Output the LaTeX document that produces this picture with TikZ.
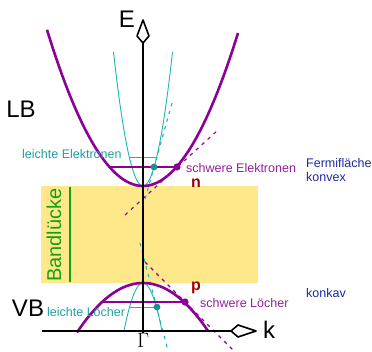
\documentclass[tikz,border=0pt]{standalone}
\usepackage{fontspec}
\setmainfont{Liberation Sans}
\definecolor{bandpurple}{RGB}{140,0,150}
\definecolor{txtpurple}{RGB}{150,30,160}
\definecolor{cyanline}{RGB}{32,180,180}
\definecolor{cyantxt}{RGB}{30,160,160}
\definecolor{gapyellow}{RGB}{254,232,138}
\definecolor{gapgreen}{RGB}{20,160,20}
\definecolor{nred}{RGB}{160,0,0}
\definecolor{navytxt}{RGB}{30,40,160}
\tikzset{
  lbl/.style={inner sep=0pt, font=\fontsize{12.5}{14}\selectfont},
  bigtxt/.style={inner sep=0pt, font=\fontsize{24}{28}\selectfont},
  heavyband/.style={draw=bandpurple, line width=2.6pt},
  lightband/.style={draw=cyanline, line width=0.9pt},
  purpdash/.style={draw=bandpurple, line width=1.1pt, dash pattern=on 3.5pt off 4.5pt},
  cyandash/.style={draw=cyanline, line width=1.1pt, dash pattern=on 3.5pt off 4.5pt},
  axisline/.style={draw=black, line width=1.8pt},
  kite/.style={draw=black, fill=white, line width=1.6pt, line join=round},
}
\begin{document}
\begin{tikzpicture}[x=1pt,y=-1pt]
\useasboundingbox (0,0) rectangle (372,351);
% band gap
\fill[gapyellow] (41,186) rectangle (258,283);
\draw[gapgreen, line width=1.2pt] (70,187) -- (70,282);
\node[inner sep=0pt, rotate=90, text=gapgreen, font=\fontsize{20}{22}\selectfont] (gap) at (54,235) {Bandlücke};
% coordinates
\coordinate (Etip) at (143,20);
\coordinate (Eback) at (143,43);
\coordinate (ktip) at (256,331);
\coordinate (kback) at (231,331);
\coordinate (kleft) at (42,331);
\coordinate (Ebottom) at (143,333);
\coordinate (cdotH) at (177,167);
\coordinate (cdotL) at (154,167);
\coordinate (vdotH) at (185,302);
\coordinate (vdotL) at (157,307);
% dashed tangents
\draw[purpdash] (125,215) -- (218,130);
\draw[cyandash] (172,103) -- (144,203);
\draw[purpdash] (145,262) -- (234,351);
\draw[cyandash] (140,243) -- (168,351);
% conduction band
\draw[lightband] plot[domain=-29.5:29.5, samples=50, smooth] ({143+\x},{186-0.154*\x*\x});
\draw[heavyband] plot[domain=-96:95, samples=80, smooth] ({143+\x},{186-0.01695*\x*\x});
\draw[draw=bandpurple, line width=1.8pt] (109,167) -- (cdotH);
\draw[draw=cyanline, line width=0.9pt] (129,157) -- (157,157);
% valence band
\draw[lightband] plot[domain=-19:19, samples=40, smooth] ({143+\x},{283+0.133*\x*\x});
\draw[heavyband] plot[domain=-66:65, samples=80, smooth] ({143+\x},{283+0.01136*\x*\x});
\draw[draw=bandpurple, line width=1.8pt] (101,302) -- (vdotH);
\draw[draw=cyanline, line width=0.9pt] (129,307) -- (vdotL);
% axes
\draw[axisline] (Ebottom) -- (Eback);
\draw[axisline] (kleft) -- (kback);
\draw[kite] (Etip) -- (137,36) -- (Eback) -- (149,36) -- cycle;
\draw[kite] (ktip) -- (238,325) -- (kback) -- (238,337) -- cycle;
% dots
\fill[bandpurple] (cdotH) circle (3.6pt);
\fill[bandpurple] (vdotH) circle (3.6pt);
\fill[cyanline!80!black] (cdotL) circle (3.4pt);
\fill[cyanline!80!black] (vdotL) circle (3.4pt);
% labels
\node[bigtxt] (Elbl) at (127,19) {E};
\node[bigtxt] (klbl) at (269,330) {k};
\node[bigtxt] (LB) at (21,109) {LB};
\node[bigtxt] (VB) at (28,308) {VB};
\node[inner sep=0pt, font=\fontsize{22}{24}\selectfont] (G) at (143,340) {$\Gamma$};
\node[lbl, text=cyantxt, anchor=west] (le) at (22,154) {leichte Elektronen};
\node[lbl, text=txtpurple, anchor=west] (se) at (186,168) {schwere Elektronen};
\node[lbl, text=cyantxt, anchor=west] (ll) at (47,312) {leichte Löcher};
\node[lbl, text=txtpurple, anchor=west] (sl) at (200,303) {schwere Löcher};
\node[lbl, text=navytxt, anchor=west] (ff) at (306,163) {Fermifläche};
\node[lbl, text=navytxt, anchor=west] (kx) at (306,177) {konvex};
\node[lbl, text=navytxt, anchor=west] (kv) at (306,293) {konkav};
\node[inner sep=0pt, text=nred, font=\bfseries\fontsize{16}{18}\selectfont] (n) at (196,183) {n};
\node[inner sep=0pt, text=nred, font=\bfseries\fontsize{16}{18}\selectfont] (p) at (196,288) {p};
\end{tikzpicture}
\end{document}
